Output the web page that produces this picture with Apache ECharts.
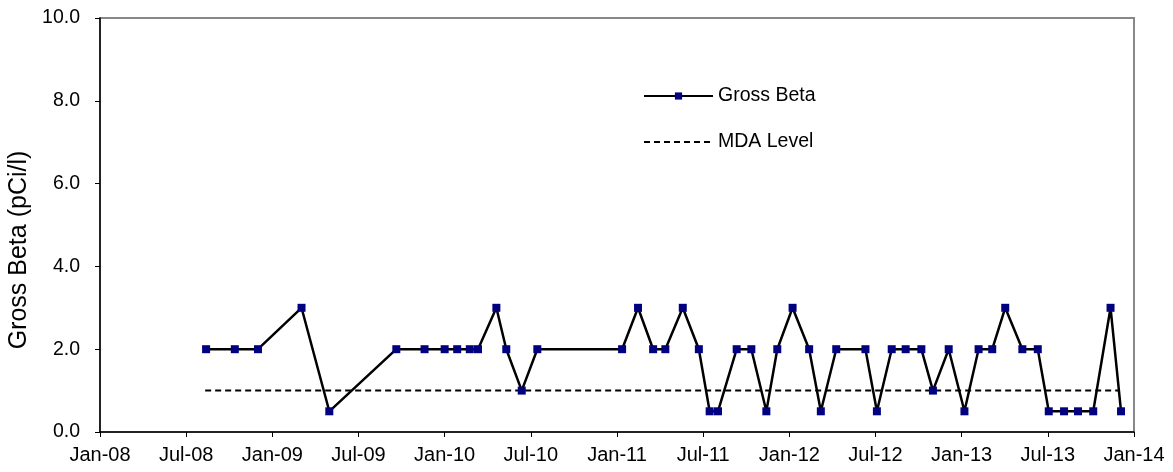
<!DOCTYPE html>
<html>
<head>
<meta charset="utf-8">
<script src="https://cdn.jsdelivr.net/npm/echarts@6/dist/echarts.min.js"></script>
<style>
html,body{margin:0;padding:0;background:#fff;}
#chart{width:1173px;height:472px;}
</style>
</head>
<body>
<div id="chart"></div>
<script>
// Sample dates and Gross Beta results (pCi/l)
var sampleDates = [
  '2008-08-13','2008-10-13','2008-12-01','2009-03-02','2009-04-30',
  '2009-09-20','2009-11-19','2010-01-01','2010-01-28','2010-02-22',
  '2010-03-11','2010-04-19','2010-05-10','2010-06-12','2010-07-15',
  '2011-01-12','2011-02-14','2011-03-17','2011-04-12','2011-05-19',
  '2011-06-22','2011-07-15','2011-08-02','2011-09-11','2011-10-12',
  '2011-11-13','2011-12-06','2012-01-08','2012-02-12','2012-03-07',
  '2012-04-09','2012-06-10','2012-07-04','2012-08-05','2012-09-04',
  '2012-10-07','2012-11-01','2012-12-04','2013-01-07','2013-02-06',
  '2013-03-05','2013-04-02','2013-05-08','2013-06-10','2013-07-03',
  '2013-08-05','2013-09-04','2013-10-06','2013-11-12','2013-12-04'
];
var grossBeta = [
  2,2,2,3,0.5,
  2,2,2,2,2,
  2,3,2,1,2,
  2,3,2,2,3,
  2,0.5,0.5,2,2,
  0.5,2,3,2,0.5,
  2,2,0.5,2,2,
  2,1,2,0.5,2,
  2,3,2,2,0.5,
  0.5,0.5,0.5,3,0.5
];
var mdaDates = ['2008-08-11','2013-12-01'];
var mdaLevel = [1.0, 1.0];
var monthNames = ['Jan','Feb','Mar','Apr','May','Jun','Jul','Aug','Sep','Oct','Nov','Dec'];
var startYear = 2008;

function toMonths(s){
  var p = s.split('-');
  var y = +p[0], m = +p[1]-1, d = +p[2];
  var dim = new Date(Date.UTC(y, m+1, 0)).getUTCDate();
  return (y-startYear)*12 + m + (d-1)/dim;
}
var gbData = sampleDates.map(function(s,i){return [toMonths(s), grossBeta[i]];});
var mdaData = mdaDates.map(function(s,i){return [toMonths(s), mdaLevel[i]];});

var FONT = 'Liberation Sans, Arial, sans-serif';
var chart = echarts.init(document.getElementById('chart'));
chart.setOption({
  animation:false,
  backgroundColor:'#fff',
  grid:{left:100,right:39,top:18,bottom:40,containLabel:false,outerBoundsMode:'none',
        show:true,borderColor:'#888',borderWidth:2,backgroundColor:'transparent'},
  legend:{
    orient:'vertical',left:643,top:86,padding:0,itemWidth:69,itemHeight:9,itemGap:26,
    textStyle:{fontFamily:FONT,fontSize:19.5,color:'#000'},
    data:['Gross Beta','MDA Level']
  },
  xAxis:{
    type:'value',min:0,max:72,interval:6,
    axisLine:{show:true,onZero:false,lineStyle:{color:'#000',width:1.5}},
    axisTick:{show:true,length:5,inside:false,lineStyle:{color:'#000'}},
    splitLine:{show:false},
    axisLabel:{
      fontFamily:FONT,fontSize:20,color:'#000',margin:13,
      formatter:function(v){
        var y = startYear + Math.floor(v/12), m = Math.round(v%12);
        return monthNames[m] + '-' + String(y).slice(2);
      }
    }
  },
  yAxis:{
    type:'value',min:0,max:10,interval:2,
    name:'Gross Beta (pCi/l)',nameLocation:'middle',nameGap:62,
    nameTextStyle:{fontFamily:FONT,fontSize:25,color:'#000',padding:[0,50,0,0]},
    axisLine:{show:true,lineStyle:{color:'#000',width:1.5}},
    axisTick:{show:true,length:5,lineStyle:{color:'#000'}},
    splitLine:{show:false},
    axisLabel:{fontFamily:FONT,fontSize:19.5,color:'#000',margin:20,
      formatter:function(v){return v.toFixed(1);}}
  },
  series:[
    {
      name:'Gross Beta',type:'line',data:gbData,
      symbol:'rect',symbolSize:8,showAllSymbol:true,
      lineStyle:{color:'#000',width:2.5},
      itemStyle:{color:'#000080',borderWidth:0},
      z:3
    },
    {
      name:'MDA Level',type:'line',data:mdaData,
      symbol:'none',
      lineStyle:{color:'#000',width:2,type:[6,4]},
      itemStyle:{color:'#000',opacity:0},
      z:2
    }
  ]
});
</script>
</body>
</html>
